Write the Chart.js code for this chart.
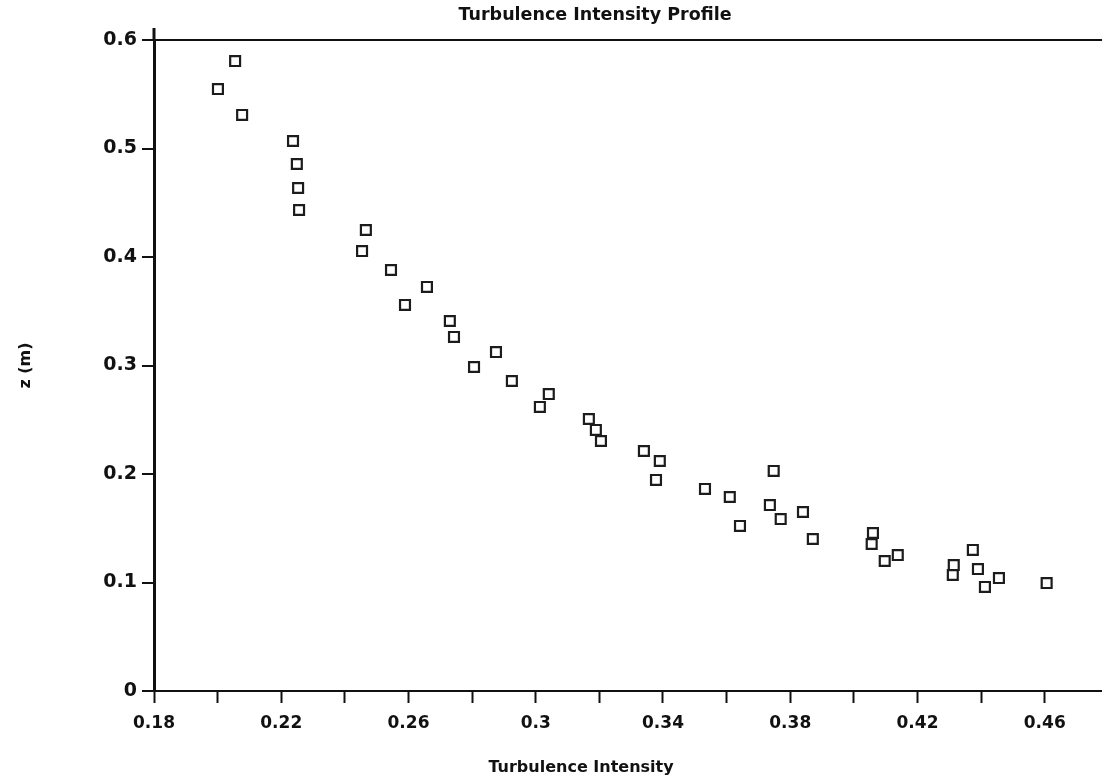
<!DOCTYPE html>
<html>
<head>
<meta charset="utf-8">
<title>Turbulence Intensity Profile</title>
<script src="https://cdn.jsdelivr.net/npm/chart.js@4.4.1/dist/chart.umd.min.js"></script>
<style>
    html, body { margin: 0; padding: 0; background: #fff; overflow: hidden; }
    #wrap { width: 1102px; height: 782px; }
</style>
</head>
<body>
<div id="wrap"><canvas id="profile"></canvas></div>
<script>
var intensity = [0.2055, 0.2001, 0.2077, 0.2237, 0.2249, 0.2253, 0.2256, 0.2466, 0.2454, 0.2545,
    0.2658, 0.2589, 0.2730, 0.2743, 0.2875, 0.2806, 0.2925, 0.3041, 0.3013, 0.3167,
    0.3189, 0.3205, 0.3340, 0.3390, 0.3378, 0.3748, 0.3532, 0.3610, 0.3736, 0.3770,
    0.3840, 0.3642, 0.3871, 0.4060, 0.4056, 0.4097, 0.4138, 0.4374, 0.4314, 0.4311,
    0.4390, 0.4412, 0.4456, 0.4606];
var height = [0.5806, 0.5548, 0.5309, 0.5069, 0.4857, 0.4636, 0.4433, 0.4249, 0.4055, 0.3880,
    0.3724, 0.3558, 0.3410, 0.3263, 0.3124, 0.2986, 0.2857, 0.2737, 0.2618, 0.2507,
    0.2406, 0.2304, 0.2212, 0.2120, 0.1945, 0.2028, 0.1862, 0.1788, 0.1714, 0.1585,
    0.1650, 0.1521, 0.1401, 0.1456, 0.1355, 0.1198, 0.1253, 0.1300, 0.1161, 0.1069,
    0.1124, 0.0959, 0.1041, 0.0995];
var xMin = 0.18, xMax = 0.478, xStep = 0.02;
var yMin = 0, yMax = 0.6, yStep = 0.1;

var titleText = 'Turbulence Intensity Profile';
var xTitle = 'Turbulence Intensity';
var yTitle = 'z (m)';

var fontFamily = '"DejaVu Sans", sans-serif';

// titles of the old plot are not centred on the axis, so they are placed by hand
var freeTitles = {
    id: 'freeTitles',
    afterDraw: function (chart) {
        var ctx = chart.ctx;
        var area = chart.chartArea;
        ctx.save();
        // y axis pokes a little above the top frame line
        ctx.strokeStyle = '#111';
        ctx.lineWidth = 3;
        ctx.beginPath();
        ctx.moveTo(area.left, area.top - 12);
        ctx.lineTo(area.left, area.top);
        ctx.stroke();

        ctx.fillStyle = '#111';
        ctx.textAlign = 'center';
        ctx.textBaseline = 'middle';
        ctx.font = 'bold 17.5px ' + fontFamily;
        ctx.fillText(titleText, 595, 15);
        ctx.font = 'bold 16px ' + fontFamily;
        ctx.fillText(xTitle, 581, 768);
        ctx.restore();
    }
};

window.addEventListener("load", function () {
    var points = intensity.map(function (v, i) {
        return { x: v, y: height[i] };
    });
    var ctx = document.getElementById('profile').getContext('2d');
    new Chart(ctx, {
        type: 'scatter',
        data: {
            datasets: [
                {
                    label: 'z',
                    data: points,
                    pointStyle: 'rect',
                    pointRadius: 7,
                    borderWidth: 2.2,
                    borderColor: '#1c1c1c',
                    backgroundColor: 'rgba(255,255,255,0)'
                }
            ]
        },
        options: {
            responsive: true,
            maintainAspectRatio: false,
            animation: false,
            layout: {
                autoPadding: false,
                padding: { top: 40, right: 0, bottom: 0, left: 0 }
            },
            plugins: {
                legend: { display: false },
                tooltip: { enabled: false },
                title: { display: false }
            },
            scales: {
                x: {
                    type: 'linear',
                    min: xMin,
                    max: xMax,
                    bounds: 'data',
                    afterFit: function (scale) {
                        scale.height = 91;
                        scale.paddingLeft = 0;
                        scale.paddingRight = 0;
                    },
                    border: { display: true, color: '#111', width: 2 },
                    grid: {
                        drawOnChartArea: false,
                        drawTicks: true,
                        tickLength: 12,
                        tickWidth: 2,
                        tickColor: '#111'
                    },
                    ticks: {
                        stepSize: xStep,
                        includeBounds: false,
                        autoSkip: false,
                        maxRotation: 0,
                        padding: 10,
                        color: '#111',
                        font: { family: fontFamily, size: 17, weight: 'bold' },
                        callback: function (value, index) {
                            return index % 2 === 0 ? String(parseFloat(value.toFixed(2))) : '';
                        }
                    }
                },
                y: {
                    min: yMin,
                    max: yMax,
                    afterFit: function (scale) { scale.width = 154; },
                    border: { display: true, color: '#111', width: 3 },
                    grid: {
                        drawOnChartArea: true,
                        drawTicks: true,
                        tickLength: 12,
                        tickWidth: 2,
                        tickColor: '#111',
                        lineWidth: 2,
                        color: function (c) {
                            return c.tick && Math.abs(c.tick.value - yMax) < 1e-9 ? '#111' : 'rgba(0,0,0,0)';
                        }
                    },
                    ticks: {
                        stepSize: yStep,
                        padding: 5,
                        color: '#111',
                        font: { family: fontFamily, size: 19, weight: 'bold' }
                    },
                    title: {
                        display: true,
                        text: yTitle,
                        color: '#111',
                        padding: { top: 16, bottom: 0 },
                        font: { family: fontFamily, size: 16, weight: 'bold' }
                    }
                }
            }
        },
        plugins: [freeTitles]
    });
});
</script>
</body>
</html>
